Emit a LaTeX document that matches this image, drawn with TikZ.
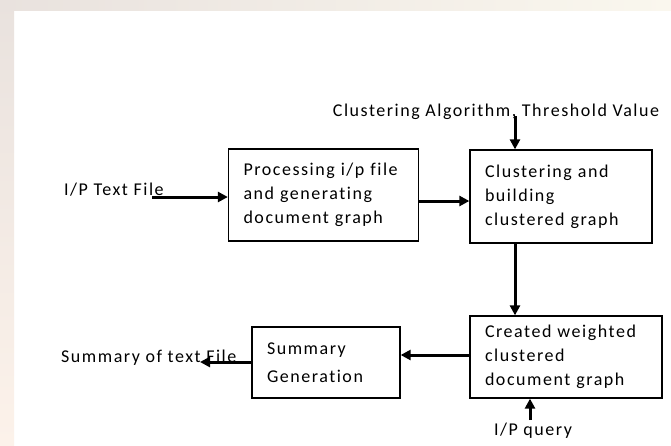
\documentclass[tikz,border=0pt]{standalone}
\usepackage{fontspec}
\setmainfont{Carlito}[LetterSpace=8.5, Ligatures={NoCommon}]
\usetikzlibrary{arrows.meta}
\tikzset{
  box/.style={draw, line width=1.3pt, align=left, inner xsep=15pt, inner ysep=0pt,
              font=\fontsize{18}{24}\selectfont},
  lbl/.style={font=\fontsize{18}{20}\selectfont, inner sep=0pt},
  flow/.style={line width=3pt, -{Triangle[length=10pt,width=10pt]}},
}
\begin{document}
\begin{tikzpicture}[x=1pt,y=-1pt]
  % page and faint watermark strips
  \useasboundingbox (0,0) rectangle (671,445);
  \fill[white] (0,0) rectangle (671,445);
  \shade[top color={rgb,255:red,233;green,226;blue,222}, bottom color={rgb,255:red,252;green,242;blue,234}]
    (0,0) rectangle (14,445);
  \shade[left color={rgb,255:red,233;green,226;blue,222}, right color={rgb,255:red,250;green,247;blue,238}]
    (0,0) rectangle (671,10);

  % process boxes
  \node[box, text width=160pt, minimum height=92pt] (proc) at (323.5,195)
    {Processing i/p file\\and generating\\document graph};
  \node[box, text width=152pt, minimum height=93pt] (clus) at (561,196.5)
    {Clustering and\\building\\clustered graph};
  \node[box, text width=162pt, minimum height=82pt] (wgt) at (566,357)
    {Created weighted\\clustered\\document graph};
  \node[box, text width=118pt, minimum height=71pt, font=\fontsize{18}{28}\selectfont] (summ) at (326,362.5)
    {Summary\\Generation};

  % inputs and outputs
  \node[lbl, anchor=west] (inp) at (64,190) {I/P Text File};
  \node[lbl] (alg) at (496,112) {Clustering Algorithm, Threshold Value};
  \node[lbl, anchor=west] (out) at (61,358) {Summary of text File};
  \node[lbl] (qry) at (533,431) {I/P query};

  \coordinate (inEnd) at (152,197);
  \coordinate (algEnd) at (515,116);
  \coordinate (outEnd) at (200,362);
  \coordinate (qryEnd) at (530,420);

  % connectors
  \draw[flow] (inEnd) -- (inEnd -| proc.west);
  \draw[flow] (proc.east |- 0,201) -- (clus.west |- 0,201);
  \draw[flow] (algEnd) -- (algEnd |- clus.north);
  \draw[flow] (clus.south -| 515,0) -- (wgt.north -| 515,0);
  \draw[flow] (wgt.west |- 0,355) -- (summ.east |- 0,355);
  \draw[flow] (summ.west |- outEnd) -- (outEnd);
  \draw[flow] (qryEnd) -- (qryEnd |- wgt.south);
\end{tikzpicture}
\end{document}
